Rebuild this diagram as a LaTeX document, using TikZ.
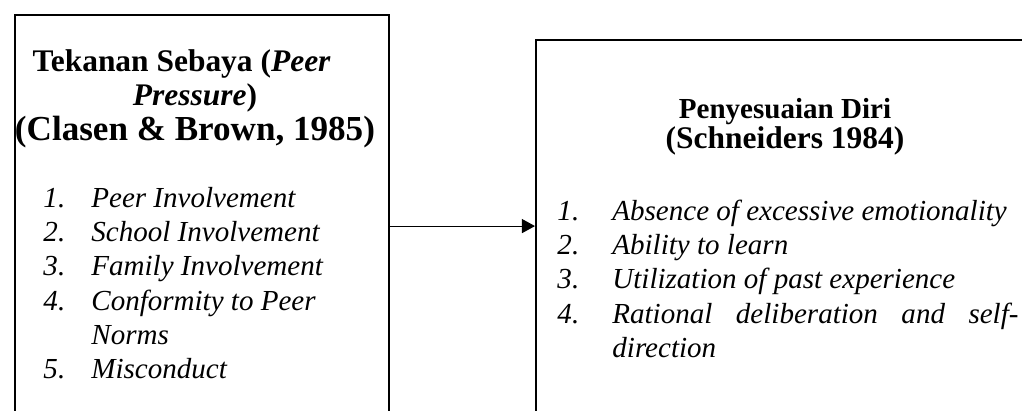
\documentclass[tikz,border=0pt]{standalone}
\usepackage{fontspec}
\setmainfont{Liberation Serif}
\usetikzlibrary{arrows.meta, positioning}
\def\px{0.4132pt}
\tikzset{
  every picture/.style={x=\px, y=-\px},
  panel/.style={draw, line width=0.85pt, inner sep=0pt, anchor=north west},
  head/.style={anchor=base, inner sep=0pt},
  items/.style={anchor=base west, inner sep=0pt},
  link/.style={-{Triangle[length=5.4pt, width=5.8pt]}, line width=0.45pt},
}

\begin{document}
\begin{tikzpicture}
  \useasboundingbox (0,0) rectangle (1022,410);
  \clip (0,0) rectangle (1022,410);
  % the two frames run past the lower edge
  \node[panel, minimum width=154.7pt, minimum height=174.4pt] (peer) at (13.5,14) {};
  \node[panel, minimum width=210.7pt, minimum height=173.5pt] (adj) at (535,39) {};
  \node[head, font=\bfseries\fontsize{13}{14.3}\selectfont] (peerhead) at (195,71)
    {\begin{tabular}[t]{@{}c@{}}
      Tekanan Sebaya (\textit{Peer}\hspace*{11pt}\\
      \textit{Pressure})\\
      \fontsize{14.5}{14.3}\selectfont (Clasen \& Brown, 1985)
    \end{tabular}};
  \node[items, font=\itshape\fontsize{12}{14.13}\selectfont] (peerlist) at (43,207.5)
    {\begin{tabular}[t]{@{}p{19.8pt}@{}l@{}}
      1. & Peer Involvement\\
      2. & School Involvement\\
      3. & Family Involvement\\
      4. & Conformity to Peer\\
         & Norms\\
      5. & Misconduct
    \end{tabular}};
  \node[head, font=\bfseries\fontsize{12}{12}\selectfont] (adjhead) at (785,118)
    {\begin{tabular}[t]{@{}c@{}}
      Penyesuaian Diri\\
      \fontsize{13}{12}\selectfont (Schneiders 1984)
    \end{tabular}};
  \node[items, font=\itshape\fontsize{12}{14.25}\selectfont] (adjlist) at (557,220)
    {\begin{tabular}[t]{@{}p{22.7pt}@{}l@{}}
      1. & Absence of excessive emotionality\\
      2. & Ability to learn\\
      3. & Utilization of past experience\\
      4. & \makebox[167.8pt][s]{Rational deliberation and self-}\\
         & direction
    \end{tabular}};
  \draw[link] (peer.east) -- (peer.east -| adj.west);
\end{tikzpicture}
\end{document}
